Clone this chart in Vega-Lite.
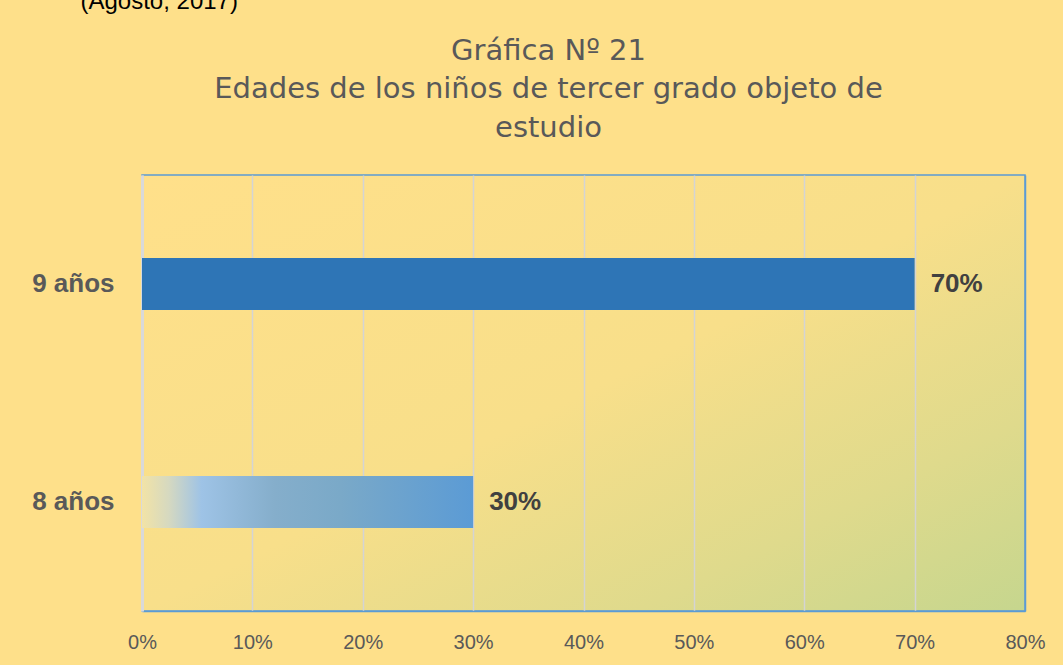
{
  "$schema": "https://vega.github.io/schema/vega-lite/v6.json",
  "width": 883,
  "height": 436,
  "autosize": {"type": "none"},
  "padding": {"left": 142, "top": 175, "right": 38, "bottom": 54},
  "background": "#FEE08A",
  "config": {
    "view": {
      "fill": {
        "gradient": "linear",
        "x1": 0, "y1": 0, "x2": 1, "y2": 1,
        "stops": [
          {"offset": 0, "color": "#FFE08A"},
          {"offset": 0.5, "color": "#F8DF8A"},
          {"offset": 0.78, "color": "#DFDA8C"},
          {"offset": 1, "color": "#C6D68E"}
        ]
      },
      "stroke": "#5B9BD5",
      "strokeWidth": 1.5
    }
  },
  "data": {
    "values": [
      {"edad": "9 años", "pct": 0.70},
      {"edad": "8 años", "pct": 0.30}
    ]
  },
  "encoding": {
    "y": {
      "field": "edad",
      "type": "nominal",
      "sort": ["9 años", "8 años"],
      "scale": {"paddingInner": 0.7615, "paddingOuter": 0.38},
      "axis": {
        "title": "(Agosto,  2017)",
        "titleAngle": 0,
        "titleAlign": "left",
        "titleBaseline": "alphabetic",
        "titleX": -62,
        "titleY": -167,
        "titleFont": "Liberation Sans",
        "titleFontSize": 24,
        "titleFontWeight": "normal",
        "titleColor": "#000000",
        "labelFont": "Liberation Sans",
        "labelFontSize": 26,
        "labelFontWeight": "bold",
        "labelColor": "#595959",
        "labelPadding": 28,
        "ticks": false,
        "domainColor": "#D9D9D9",
        "domainWidth": 3,
        "grid": false
      }
    },
    "x": {
      "field": "pct",
      "type": "quantitative",
      "scale": {"domain": [0, 0.8], "nice": false},
      "axis": {
        "title": ["Gráfica Nº 21", "Edades de los niños de tercer grado objeto de", "estudio"],
        "titleFont": "DejaVu Sans",
        "titleFontSize": 29,
        "titleFontWeight": "normal",
        "titleColor": "#595959",
        "titleLineHeight": 38.5,
        "titleAlign": "center",
        "titleBaseline": "top",
        "titleAngle": 0,
        "titleX": 406,
        "titleY": -575,
        "values": [0, 0.1, 0.2, 0.3, 0.4, 0.5, 0.6, 0.7, 0.8],
        "format": ".0%",
        "labelFont": "Liberation Sans",
        "labelFontSize": 20,
        "labelColor": "#595959",
        "labelPadding": 21,
        "labelFlush": false,
        "labelOverlap": false,
        "ticks": false,
        "domainColor": "#5B9BD5",
        "domainWidth": 1.5,
        "grid": true,
        "gridColor": {"condition": {"test": "datum.value >= 0.8", "value": "#5B9BD5"}, "value": "#D4D4D4"},
        "gridWidth": 1.5
      }
    }
  },
  "layer": [
    {
      "transform": [{"filter": "datum.edad === '9 años'"}],
      "mark": {"type": "bar", "fill": "#2E75B6"}
    },
    {
      "transform": [{"filter": "datum.edad === '8 años'"}],
      "mark": {
        "type": "bar",
        "fill": {
          "gradient": "linear",
          "x1": 0, "y1": 0, "x2": 1, "y2": 0,
          "stops": [
            {"offset": 0, "color": "#F2E3A6"},
            {"offset": 0.08, "color": "#D6D9C0"},
            {"offset": 0.18, "color": "#9EC3E6"},
            {"offset": 0.4, "color": "#85AECB"},
            {"offset": 0.6, "color": "#7AA9C8"},
            {"offset": 1, "color": "#5B9BD5"}
          ]
        }
      }
    },
    {
      "mark": {
        "type": "text",
        "align": "left",
        "baseline": "middle",
        "dx": 16,
        "font": "Liberation Sans",
        "fontSize": 26,
        "fontWeight": "bold",
        "color": "#404040"
      },
      "encoding": {
        "text": {"field": "pct", "type": "quantitative", "format": ".0%"}
      }
    }
  ]
}
